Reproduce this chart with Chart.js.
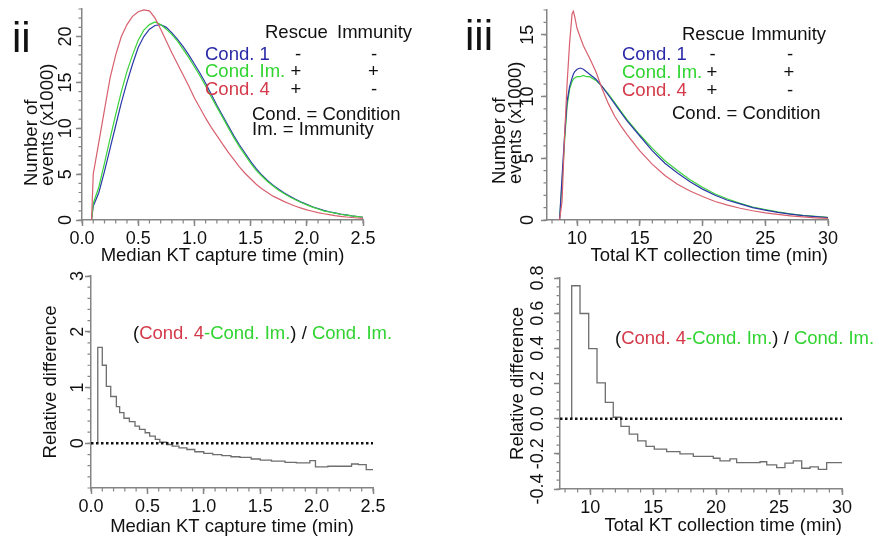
<!DOCTYPE html>
<html lang="en">
<head>
<meta charset="UTF-8">
<title>KT capture and collection times</title>
<script src="https://cdn.jsdelivr.net/npm/chart.js"></script>
<style>
  body { margin: 0; background: #fff; }
  #fig { position: relative; width: 879px; height: 539px; overflow: hidden; font-family: "Liberation Sans", Arial, sans-serif; color: #111; }
  #fig canvas { position: absolute; }
  .t { position: absolute; font-size: 18.5px; line-height: 1; white-space: pre; }
  .big { position: absolute; font-size: 42px; line-height: 1; }
  .ytitle { position: absolute; font-size: 18.5px; line-height: 16px; white-space: pre; transform-origin: 0 0; transform: rotate(-90deg); }
  .blue { color: #2a2aa8; }
  .green { color: #30d430; }
  .red { color: #d43a4a; }
</style>
</head>
<body>
<div id="fig">
  <canvas id="captureHist" width="430" height="275" style="left:0;top:0"></canvas>
  <canvas id="collectHist" width="439" height="275" style="left:440px;top:0"></canvas>
  <canvas id="captureRel" width="430" height="271" style="left:0;top:268px"></canvas>
  <canvas id="collectRel" width="439" height="277" style="left:440px;top:262px"></canvas>

  <div class="big" style="left:12px;top:16.5px">ii</div>
  <div class="big" style="left:465px;top:14.5px">iii</div>

  <div class="ytitle" style="left:22.6px;top:186px">Number of
events (x1000)</div>
  <div class="ytitle" style="left:490.6px;top:184px">Number of
events (x1000)</div>

  <!-- legend, panel ii -->
  <div class="t" style="left:265px;top:22.6px">Rescue</div>
  <div class="t" style="left:337px;top:22.6px">Immunity</div>
  <div class="t blue" style="left:205px;top:44.6px">Cond. 1</div>
  <div class="t" style="left:295px;top:44.6px">-</div>
  <div class="t" style="left:371px;top:44.6px">-</div>
  <div class="t green" style="left:205px;top:61.6px">Cond. Im.</div>
  <div class="t" style="left:290.5px;top:61.6px">+</div>
  <div class="t" style="left:368px;top:61.6px">+</div>
  <div class="t red" style="left:205px;top:79.6px">Cond. 4</div>
  <div class="t" style="left:290.5px;top:79.6px">+</div>
  <div class="t" style="left:371px;top:79.6px">-</div>
  <div class="t" style="left:252px;top:104.6px">Cond. = Condition</div>
  <div class="t" style="left:252px;top:119.6px">Im. = Immunity</div>

  <!-- legend, panel iii -->
  <div class="t" style="left:682px;top:24.6px">Rescue</div>
  <div class="t" style="left:751px;top:24.6px">Immunity</div>
  <div class="t blue" style="left:622px;top:44.6px">Cond. 1</div>
  <div class="t" style="left:709.5px;top:44.6px">-</div>
  <div class="t" style="left:787px;top:44.6px">-</div>
  <div class="t green" style="left:622px;top:62.6px">Cond. Im.</div>
  <div class="t" style="left:706.6px;top:62.6px">+</div>
  <div class="t" style="left:783.6px;top:62.6px">+</div>
  <div class="t red" style="left:622px;top:80.6px">Cond. 4</div>
  <div class="t" style="left:706.6px;top:80.6px">+</div>
  <div class="t" style="left:787px;top:80.6px">-</div>
  <div class="t" style="left:672px;top:103.6px">Cond. = Condition</div>

  <div class="t" style="left:133px;top:324.3px">(<span class="red">Cond. 4</span><span class="green">-Cond. Im.</span>) / <span class="green">Cond. Im.</span></div>
  <div class="t" style="left:615px;top:329.3px">(<span class="red">Cond. 4</span><span class="green">-Cond. Im.</span>) / <span class="green">Cond. Im.</span></div>
</div>

<script>
// ---- panel ii : median KT capture time (events x1000) ----
const captureTime = [0.085, 0.10, 0.15, 0.20, 0.25, 0.30, 0.35, 0.40, 0.45, 0.50,
  0.55, 0.60, 0.65, 0.70, 0.75, 0.80, 0.85, 0.90, 0.95, 1.00,
  1.05, 1.10, 1.15, 1.20, 1.25, 1.30, 1.35, 1.40, 1.45, 1.50,
  1.55, 1.60, 1.65, 1.70, 1.75, 1.80, 1.85, 1.90, 1.95, 2.00,
  2.05, 2.10, 2.15, 2.20, 2.25, 2.30, 2.35, 2.40, 2.45, 2.50];
const captureCond1 = [0, 1.5, 3.0, 5.3, 7.8, 10.3, 12.8, 15.0, 17.0, 18.8,
  20.0, 20.8, 21.2, 21.3, 21.0, 20.4, 19.7, 18.9, 18.0, 17.0,
  16.0, 14.9, 13.7, 12.5, 11.4, 10.3, 9.2, 8.2, 7.3, 6.4,
  5.6, 4.9, 4.3, 3.8, 3.35, 2.95, 2.6, 2.25, 1.95, 1.7,
  1.45, 1.25, 1.05, 0.9, 0.78, 0.65, 0.55, 0.45, 0.38, 0.3];
const captureCondIm = [0, 1.8, 3.6, 6.2, 8.9, 11.5, 14.0, 16.2, 18.0, 19.6,
  20.7, 21.3, 21.6, 21.3, 20.8, 20.2, 19.5, 18.6, 17.7, 16.7,
  15.7, 14.6, 13.4, 12.3, 11.2, 10.1, 9.0, 8.0, 7.1, 6.2,
  5.4, 4.8, 4.2, 3.7, 3.25, 2.85, 2.5, 2.2, 1.9, 1.65,
  1.4, 1.2, 1.0, 0.87, 0.75, 0.63, 0.53, 0.44, 0.37, 0.3];
const captureCond4 = [0, 5.0, 8.5, 12.0, 15.5, 18.0, 20.0, 21.3, 22.2, 22.7,
  22.9, 22.8, 22.0, 20.8, 19.5, 18.2, 17.0, 15.8, 14.6, 13.3,
  12.2, 11.1, 10.1, 9.2, 8.3, 7.4, 6.6, 5.8, 5.1, 4.5,
  3.9, 3.4, 3.0, 2.6, 2.3, 2.0, 1.75, 1.5, 1.3, 1.1,
  0.95, 0.8, 0.68, 0.58, 0.48, 0.4, 0.33, 0.27, 0.22, 0.18];

// ---- panel iii : total KT collection time (events x1000) ----
const collectTime = [8.6, 8.8, 9.0, 9.2, 9.4, 9.6, 9.7, 9.8, 10.0, 10.25,
  10.5, 10.75, 11.0, 11.5, 12.0, 12.5, 13.0, 13.5, 14.0, 15,
  16, 17, 18, 19, 20, 21, 22, 23, 24, 25, 26, 27, 28, 29, 30];
const collectCond1 = [0, 3.5, 6.8, 9.6, 10.8, 11.5, 11.8, 12.0, 12.2, 12.3,
  12.2, 12.0, 11.8, 11.4, 10.8, 10.1, 9.4, 8.7, 8.0, 6.8,
  5.6, 4.6, 3.8, 3.1, 2.5, 2.0, 1.6, 1.3, 1.0, 0.8, 0.62, 0.48, 0.36, 0.27, 0.2];
const collectCondIm = [0, 3.0, 6.3, 9.2, 10.6, 11.2, 11.4, 11.5, 11.6, 11.6,
  11.7, 11.6, 11.6, 11.3, 10.8, 10.2, 9.5, 8.8, 8.1, 6.9,
  5.8, 4.8, 4.0, 3.25, 2.65, 2.1, 1.7, 1.35, 1.05, 0.85, 0.66, 0.5, 0.38, 0.29, 0.22];
const collectCond4 = [0, 1.5, 6.8, 11.0, 14.3, 16.7, 16.9, 16.5, 15.5, 14.8,
  14.1, 13.6, 13.1, 12.0, 10.6, 9.4, 8.4, 7.6, 6.9, 5.6,
  4.5, 3.6, 2.9, 2.35, 1.9, 1.5, 1.2, 0.95, 0.75, 0.58, 0.45, 0.34, 0.25, 0.18, 0.13];

// ---- relative difference (Cond. 4 - Cond. Im.) / Cond. Im., bin starts ----
const relCaptureTime = [0.06, 0.06, 0.10, 0.136, 0.175, 0.225, 0.254, 0.292, 0.34, 0.39,
  0.43, 0.48, 0.52, 0.57, 0.61, 0.67, 0.72, 0.78, 0.85, 0.92,
  1.00, 1.08, 1.16, 1.24, 1.32, 1.42, 1.50, 1.60, 1.72, 1.82,
  1.94, 1.99, 2.10, 2.20, 2.31, 2.37, 2.44, 2.50];
const relCapture = [0, 1.72, 1.40, 1.02, 0.84, 0.66, 0.55, 0.45, 0.39, 0.31,
  0.25, 0.19, 0.13, 0.07, 0.02, -0.02, -0.05, -0.08, -0.11, -0.15,
  -0.18, -0.20, -0.22, -0.24, -0.25, -0.28, -0.30, -0.32, -0.34, -0.35,
  -0.31, -0.42, -0.41, -0.41, -0.37, -0.38, -0.47, -0.47];
const relCollectTime = [8.53, 8.53, 9.19, 9.88, 10.54, 11.2, 11.83, 12.44, 13.1, 13.77,
  14.43, 15.09, 16.07, 17.13, 18.19, 19.78, 20.31, 21.1, 21.63, 23.49,
  24.02, 24.81, 25.47, 26.13, 26.8, 27.46, 28.12, 28.78, 30];
const relCollect = [0, 0.756, 0.598, 0.398, 0.204, 0.093, 0.008, -0.044, -0.088, -0.126,
  -0.158, -0.173, -0.187, -0.2, -0.215, -0.225, -0.24, -0.229, -0.25, -0.245,
  -0.263, -0.278, -0.253, -0.24, -0.282, -0.274, -0.288, -0.25, -0.25];

// tick labels
const captureTicks = [0, 0.5, 1.0, 1.5, 2.0, 2.5];
const collectTicks = [10, 15, 20, 25, 30];
const eventTicksA = [0, 5, 10, 15, 20];
const eventTicksB = [0, 5, 10, 15];
const relTicksA = [0, 1, 2, 3];
const relTicksB = [-0.4, -0.2, 0, 0.2, 0.4, 0.6, 0.8];

const ink = '#111';
const axisGray = '#858585';
const blue = '#2b38a8', green = '#3cd43c', red = '#d8606e', stepGray = '#6e6e6e';

Chart.defaults.font.family = '"Liberation Sans", Arial, sans-serif';
Chart.defaults.color = ink;

// small unlabeled ticks between the major ones
const minorTicks = {
  id: 'minorTicks',
  afterDraw(chart, args, o) {
    const {ctx, chartArea: a, scales: {x, y}} = chart;
    ctx.save();
    ctx.strokeStyle = axisGray;
    ctx.lineWidth = 1.2;
    ctx.beginPath();
    for (let i = 0; i <= o.xCount; i++) {
      const px = x.getPixelForValue(o.xFrom + i * o.xStep);
      ctx.moveTo(px, a.bottom);
      ctx.lineTo(px, a.bottom + 3.5);
    }
    for (let i = 0; i <= o.yCount; i++) {
      const py = y.getPixelForValue(o.yFrom + i * o.yStep);
      ctx.moveTo(a.left, py);
      ctx.lineTo(a.left - 3.5, py);
    }
    ctx.stroke();
    ctx.restore();
  }
};

const pts = (xs, ys) => xs.map((v, i) => ({x: v, y: ys[i]}));
const oneDec = v => v.toFixed(1);
const plain = v => String(v);

function noPad(s) {
  s.paddingTop = 0; s.paddingBottom = 0; s.paddingLeft = 0; s.paddingRight = 0;
}

function xScale(min, max, majors, fmt, title, align, titlePad) {
  return {
    type: 'linear', min, max,
    afterBuildTicks: s => { s.ticks = majors.map(v => ({value: v})); },
    afterFit: s => { s.height = 50; noPad(s); },
    ticks: { callback: fmt, color: ink, font: {size: 18}, padding: 2, maxRotation: 0, autoSkip: false },
    grid: { drawOnChartArea: false, tickLength: 6, tickColor: axisGray, tickWidth: 1.5 },
    border: { color: axisGray, width: 1.5 },
    title: { display: true, text: title, color: ink, font: {size: 18.5}, align, padding: {top: 0, bottom: titlePad} }
  };
}

function yScale(min, max, majors, fmt, width, tickPad, title, titleOffset) {
  return {
    type: 'linear', min, max,
    afterBuildTicks: s => { s.ticks = majors.map(v => ({value: v})); },
    afterFit: s => { s.width = width; noPad(s); },
    ticks: { callback: fmt, color: ink, font: {size: 18}, padding: tickPad,
      minRotation: 90, maxRotation: 90, crossAlign: 'center', autoSkip: false },
    grid: { drawOnChartArea: false, tickLength: 6, tickColor: axisGray, tickWidth: 1.5 },
    border: { color: axisGray, width: 1.5 },
    title: title
      ? { display: true, text: title, color: ink, font: {size: 18.5}, padding: {top: titleOffset, bottom: 0} }
      : { display: false }
  };
}

function panel(id, datasets, x, y, padding, minor) {
  return new Chart(document.getElementById(id), {
    type: 'line',
    data: { datasets },
    options: {
      responsive: false,
      animation: false,
      events: [],
      layout: { padding },
      plugins: { legend: { display: false }, tooltip: { enabled: false }, minorTicks: minor },
      elements: { point: { radius: 0 }, line: { tension: 0 } },
      scales: { x, y }
    },
    plugins: [minorTicks]
  });
}

panel('captureHist', [
    { data: pts(captureTime, captureCond4), borderColor: red, borderWidth: 1.2 },
    { data: pts(captureTime, captureCondIm), borderColor: green, borderWidth: 1.2 },
    { data: pts(captureTime, captureCond1), borderColor: blue, borderWidth: 1.2 }
  ],
  xScale(0, 2.5, captureTicks, oneDec, 'Median KT capture time (min)', 'center', 3),
  yScale(0, 23, eventTicksA, plain, 82, 0, null, 0),
  { left: 0, top: 9, right: 67, bottom: 5 },
  { xFrom: 0, xStep: 0.1, xCount: 25, yFrom: 0, yStep: 1, yCount: 23 });

panel('collectHist', [
    { data: pts(collectTime, collectCond4), borderColor: red, borderWidth: 1.2 },
    { data: pts(collectTime, collectCond1), borderColor: blue, borderWidth: 1.2 },
    { data: pts(collectTime, collectCondIm), borderColor: green, borderWidth: 1.2 }
  ],
  xScale(7.6, 30, collectTicks, plain, 'Total KT collection time (min)', 'end', 3),
  yScale(0, 17, eventTicksB, plain, 107, 3, null, 0),
  { left: 0, top: 10, right: 51, bottom: 5 },
  { xFrom: 8, xStep: 1, xCount: 22, yFrom: 0, yStep: 1, yCount: 17 });

panel('captureRel', [
    { data: [{x: 0, y: 0}, {x: 2.5, y: 0}], borderColor: ink, borderWidth: 2.5, borderDash: [2.5, 2.5] },
    { data: pts(relCaptureTime, relCapture), borderColor: stepGray, borderWidth: 1.3, stepped: true }
  ],
  xScale(0, 2.5, captureTicks, oneDec, 'Median KT capture time (min)', 'center', 0),
  yScale(-0.8, 3, relTicksA, plain, 91, 2, 'Relative difference', 40),
  { left: 0, top: 8, right: 57, bottom: 1 },
  { xFrom: 0, xStep: 0.1, xCount: 25, yFrom: -0.8, yStep: 0.2, yCount: 19 });

panel('collectRel', [
    { data: [{x: 7.6, y: 0}, {x: 30, y: 0}], borderColor: ink, borderWidth: 2.5, borderDash: [2.5, 2.5] },
    { data: pts(relCollectTime, relCollect), borderColor: stepGray, borderWidth: 1.3, stepped: true }
  ],
  xScale(7.6, 30, collectTicks, plain, 'Total KT collection time (min)', 'end', 2),
  yScale(-0.4, 0.8, relTicksB, oneDec, 120, 0, 'Relative difference', 67),
  { left: 0, top: 16, right: 37, bottom: 0 },
  { xFrom: 8, xStep: 1, xCount: 22, yFrom: -0.4, yStep: 0.05, yCount: 24 });
</script>
</body>
</html>
